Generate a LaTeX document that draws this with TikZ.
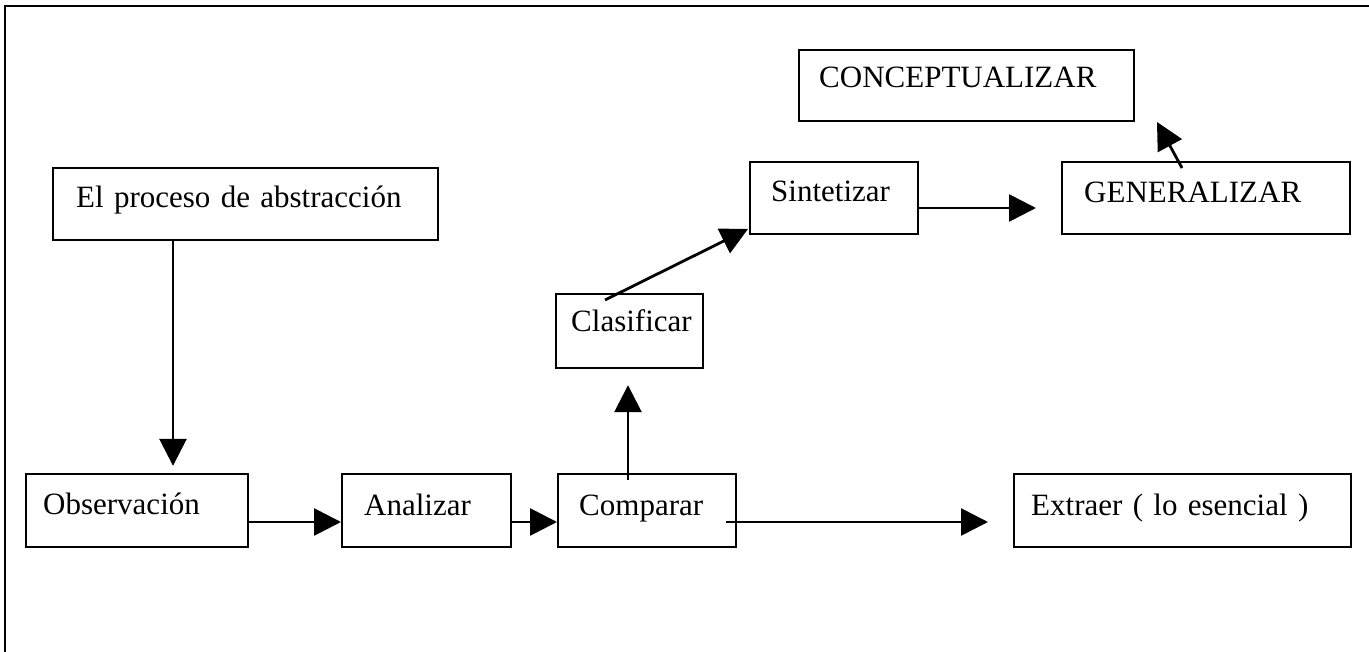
\documentclass[tikz,border=0pt]{standalone}
\usepackage{fontspec}
\setmainfont{Liberation Serif}
\usetikzlibrary{arrows.meta}
\begin{document}
\begin{tikzpicture}[x=1pt,y=-1pt,
  box/.style={draw, line width=2.4pt, anchor=base west, inner ysep=0pt, align=left,
    font=\fontsize{31}{36}\selectfont},
  pad/.style n args={4}{inner xsep=#1, text width=#2, text height=#3, text depth=#4},
  arr/.style={line width=2.8pt, -{Triangle[length=27pt,width=27pt]}},
  frame/.style={line width=2.4pt}]
\useasboundingbox (0,0) rectangle (1369,652);
\draw[frame] (5,652) -- (5,6) -- (1369,6);

\node[box, pad={23pt}{339pt}{40pt}{32pt}] (ep)  at (52,208)   {\mbox{El proceso de abstracción}};
\node[box, pad={20pt}{295pt}{38pt}{33pt}] (con) at (798,88)   {\mbox{CONCEPTUALIZAR}};
\node[box, pad={21pt}{126pt}{40pt}{32pt}] (sin) at (749,202)  {\mbox{Sintetizar}};
\node[box, pad={22pt}{244pt}{41pt}{31pt}] (gen) at (1061,203) {\mbox{GENERALIZAR}};
\node[box, pad={15pt}{117pt}{38pt}{36pt}] (cla) at (555,332)  {\mbox{Clasificar}};
\node[box, pad={17pt}{188pt}{40pt}{33pt}] (obs) at (25,514)   {\mbox{Observación}};
\node[box, pad={22pt}{125pt}{41pt}{32pt}] (ana) at (341,515)  {\mbox{Analizar}};
\node[box, pad={21pt}{136pt}{41pt}{32pt}] (com) at (557,515)  {\mbox{Comparar}};
\node[box, pad={17pt}{303pt}{41pt}{32pt}] (ext) at (1013,515) {\mbox{Extraer ( lo esencial )}};

\coordinate (xA) at (173,0);
\coordinate (yA) at (0,522);
\coordinate (xB) at (628,0);
\coordinate (yC) at (0,208);
\coordinate (clsA) at (605,300);
\coordinate (sinB) at (748,229);
\coordinate (genA) at (1182,168);
\coordinate (conB) at (1157,122);

\draw[arr, shorten >=7pt] (ep.south -| xA) -- (obs.north -| xA);
\draw[arr] (obs.east |- yA) -- (ana.west |- yA);
\draw[arr] (ana.east |- yA) -- (com.west |- yA);
\draw[arr, shorten <=-11pt, shorten >=25pt] (com.east |- yA) -- (ext.west |- yA);
\draw[arr, shorten <=-7pt, shorten >=16pt] (com.north -| xB) -- (cla.south -| xB);
\draw[arr] (clsA) -- (sinB);
\draw[arr, shorten >=25pt] (sin.east |- yC) -- (gen.west |- yC);
\draw[arr] (genA) -- (conB);
\end{tikzpicture}
\end{document}
